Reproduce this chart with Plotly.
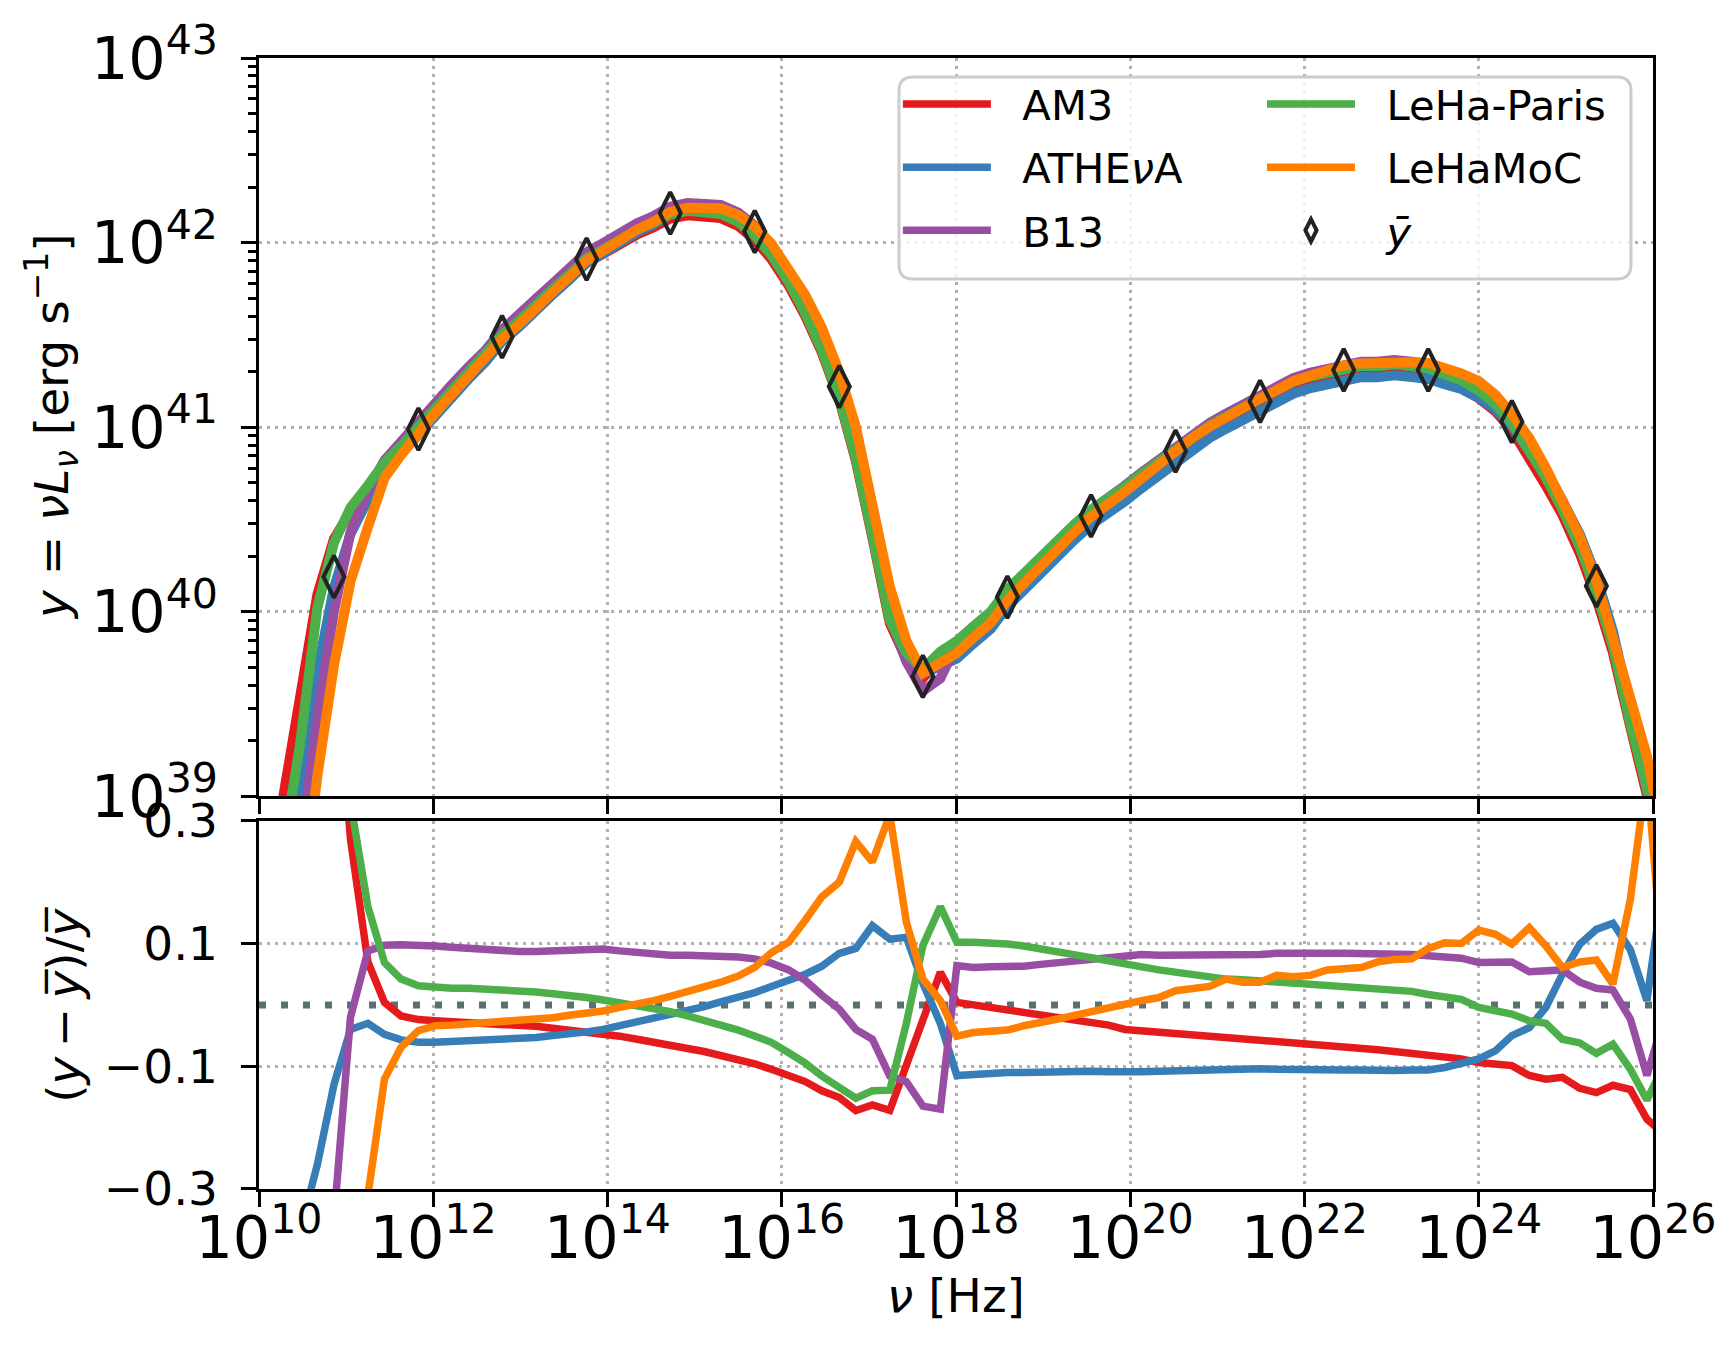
import numpy as np
import plotly.graph_objects as go

# log10(nu / Hz) of the model grid
LOG_NU = [
    9.89, 10.09, 10.28, 10.47, 10.67, 10.86, 11.05, 11.25, 11.44, 11.63,
    11.83, 12.02, 12.21, 12.41, 12.60, 12.79, 12.99, 13.18, 13.37, 13.56,
    13.76, 13.95, 14.14, 14.34, 14.53, 14.72, 14.92, 15.11, 15.30, 15.50,
    15.69, 15.88, 16.08, 16.27, 16.46, 16.66, 16.85, 17.04, 17.24, 17.43,
    17.62, 17.82, 18.01, 18.20, 18.40, 18.59, 18.78, 18.97, 19.17, 19.36,
    19.55, 19.75, 19.94, 20.13, 20.33, 20.52, 20.71, 20.91, 21.10, 21.29,
    21.49, 21.68, 21.87, 22.07, 22.26, 22.45, 22.65, 22.84, 23.03, 23.23,
    23.42, 23.61, 23.80, 24.00, 24.19, 24.38, 24.58, 24.77, 24.96, 25.16,
    25.35, 25.54, 25.74, 25.93, 26.12,
]

# log10 of the mean SED ybar [erg/s]
LOG_YBAR = [
    37.00, 37.90, 38.59, 39.15, 39.81, 40.19, 40.44, 40.62, 40.78, 40.88,
    40.99, 41.09, 41.19, 41.29, 41.38, 41.49, 41.57, 41.66, 41.74, 41.82,
    41.91, 41.96, 42.02, 42.07, 42.11, 42.16, 42.18, 42.18, 42.17, 42.13,
    42.06, 41.96, 41.82, 41.66, 41.47, 41.22, 40.90, 40.48, 40.02, 39.79,
    39.65, 39.72, 39.80, 39.88, 39.96, 40.08, 40.17, 40.27, 40.36, 40.44,
    40.52, 40.58, 40.65, 40.72, 40.79, 40.87, 40.93, 40.99, 41.04, 41.09,
    41.14, 41.18, 41.23, 41.26, 41.28, 41.31, 41.32, 41.32, 41.33, 41.32,
    41.31, 41.28, 41.25, 41.20, 41.13, 41.03, 40.89, 40.74, 40.58, 40.38,
    40.14, 39.84, 39.44, 39.08, 38.74,
]

# relative deviation (y - ybar) / ybar of each code
RES_AM3 = [
    2.00, 1.80, 1.58, 1.52, 0.92, 0.60, 0.27, 0.07, 0.004, -0.018,
    -0.024, -0.026, -0.027, -0.028, -0.029, -0.030, -0.032, -0.035, -0.038, -0.041,
    -0.043, -0.048, -0.051, -0.056, -0.060, -0.066, -0.071, -0.076, -0.082, -0.088,
    -0.096, -0.105, -0.114, -0.125, -0.140, -0.151, -0.172, -0.163, -0.172, -0.099,
    -0.020, 0.053, 0.004, 0.000, -0.003, -0.006, -0.010, -0.014, -0.018, -0.023,
    -0.028, -0.033, -0.040, -0.042, -0.045, -0.048, -0.049, -0.051, -0.055, -0.056,
    -0.057, -0.061, -0.062, -0.064, -0.067, -0.068, -0.069, -0.073, -0.076, -0.079,
    -0.083, -0.086, -0.088, -0.094, -0.096, -0.099, -0.115, -0.121, -0.118, -0.136,
    -0.143, -0.131, -0.138, -0.186, -0.210,
]
RES_ATHENA = [
    -0.35, -0.35, -0.35, -0.37, -0.26, -0.13, -0.040, -0.030, -0.048, -0.057,
    -0.061, -0.061, -0.060, -0.059, -0.058, -0.056, -0.055, -0.053, -0.050, -0.048,
    -0.044, -0.040, -0.034, -0.030, -0.024, -0.018, -0.010, -0.003, 0.005, 0.012,
    0.020, 0.030, 0.039, 0.050, 0.063, 0.084, 0.092, 0.129, 0.107, 0.110,
    0.035, -0.030, -0.115, -0.113, -0.112, -0.110, -0.110, -0.109, -0.108, -0.108,
    -0.108, -0.109, -0.110, -0.109, -0.108, -0.107, -0.106, -0.105, -0.105, -0.104,
    -0.104, -0.105, -0.106, -0.105, -0.105, -0.106, -0.106, -0.107, -0.107, -0.106,
    -0.106, -0.102, -0.094, -0.088, -0.075, -0.050, -0.037, -0.004, 0.050, 0.099,
    0.123, 0.133, 0.090, 0.007, 0.200,
]
RES_B13 = [
    -0.68, -0.68, -0.68, -0.65, -0.59, -0.35, -0.020, 0.088, 0.097, 0.098,
    0.098, 0.096, 0.094, 0.092, 0.089, 0.088, 0.087, 0.087, 0.088, 0.089,
    0.090, 0.091, 0.088, 0.085, 0.082, 0.081, 0.081, 0.081, 0.080, 0.078,
    0.075, 0.068, 0.057, 0.040, 0.016, -0.007, -0.040, -0.056, -0.116, -0.125,
    -0.165, -0.170, 0.064, 0.061, 0.062, 0.062, 0.063, 0.066, 0.069, 0.072,
    0.075, 0.079, 0.082, 0.082, 0.081, 0.081, 0.081, 0.080, 0.079, 0.081,
    0.082, 0.084, 0.085, 0.086, 0.084, 0.084, 0.084, 0.082, 0.082, 0.082,
    0.080, 0.077, 0.076, 0.069, 0.069, 0.070, 0.054, 0.054, 0.057, 0.037,
    0.027, 0.024, -0.023, -0.115, -0.025,
]
RES_LEHA_PARIS = [
    0.40, 0.40, 0.34, 0.35, 0.63, 0.53, 0.33, 0.16, 0.069, 0.042,
    0.031, 0.028, 0.027, 0.027, 0.026, 0.025, 0.023, 0.021, 0.018, 0.016,
    0.012, 0.008, 0.004, 0.000, -0.005, -0.011, -0.018, -0.024, -0.033, -0.041,
    -0.050, -0.061, -0.078, -0.095, -0.116, -0.133, -0.152, -0.140, -0.139, -0.030,
    0.097, 0.160, 0.102, 0.102, 0.101, 0.099, 0.096, 0.092, 0.088, 0.083,
    0.077, 0.072, 0.066, 0.062, 0.057, 0.053, 0.048, 0.044, 0.042, 0.041,
    0.039, 0.036, 0.035, 0.034, 0.031, 0.030, 0.028, 0.025, 0.024, 0.022,
    0.017, 0.014, 0.009, -0.004, -0.010, -0.015, -0.026, -0.030, -0.056, -0.062,
    -0.079, -0.064, -0.105, -0.155, -0.100,
]
RES_LEHAMOC = [
    -0.84, -0.84, -0.84, -0.84, -0.80, -0.67, -0.47, -0.31, -0.121, -0.069,
    -0.042, -0.034, -0.033, -0.031, -0.030, -0.028, -0.026, -0.023, -0.021, -0.017,
    -0.014, -0.010, -0.004, 0.001, 0.007, 0.014, 0.021, 0.028, 0.037, 0.047,
    0.061, 0.085, 0.102, 0.138, 0.176, 0.200, 0.266, 0.233, 0.310, 0.135,
    0.042, 0.007, -0.051, -0.045, -0.043, -0.041, -0.034, -0.030, -0.023, -0.017,
    -0.012, -0.006, 0.001, 0.007, 0.012, 0.023, 0.027, 0.030, 0.042, 0.037,
    0.037, 0.048, 0.046, 0.048, 0.057, 0.059, 0.061, 0.070, 0.074, 0.075,
    0.092, 0.101, 0.100, 0.122, 0.115, 0.099, 0.126, 0.096, 0.061, 0.070,
    0.073, 0.034, 0.172, 0.380, 0.050,
]

MODEL_NAMES = ["AM3", "ATHE<i>ν</i>A", "B13", "LeHa-Paris", "LeHaMoC"]
MODEL_RES = [RES_AM3, RES_ATHENA, RES_B13, RES_LEHA_PARIS, RES_LEHAMOC]
MODEL_COLORS = ["#e41a1c", "#377eb8", "#984ea3", "#4daf4a", "#ff7f00"]
MODEL_LEGEND = ["legend", "legend", "legend", "legend2", "legend2"]
MARKER_EVERY = 5  # ybar diamonds on every 5th grid point
RES_TICKS = [-0.3, -0.1, 0.1, 0.3]

TITLE_SED = "<i>y</i> = <i>νL</i><sub><i>ν</i></sub> [erg s<sup>−1</sup>]"
TITLE_RES = "(<i>y</i>\u2009−\u2009<i>y\u0305</i>)/<i>y\u0305</i>"
TITLE_NU = "<i>ν</i> [Hz]"

FONT = "DejaVu Sans"
FS = 47         # ticks and axis titles
FS_LEG = 41.7   # legend
PAD = "\u00a0\u00a0"  # gap between legend line and label


def _rounded_box(x0, y0, x1, y1, rx, ry):
    """svg path of a rounded rectangle in paper coords (legend frame)"""
    return (f"M{x0 + rx},{y0} L{x1 - rx},{y0} Q{x1},{y0} {x1},{y0 + ry} "
            f"L{x1},{y1 - ry} Q{x1},{y1} {x1 - rx},{y1} "
            f"L{x0 + rx},{y1} Q{x0},{y1} {x0},{y1 - ry} "
            f"L{x0},{y0 + ry} Q{x0},{y0} {x0 + rx},{y0} Z")


def _axis_style(**kw):
    base = dict(
        showline=True, mirror=True, linecolor="black", linewidth=3,
        ticks="outside", ticklen=14.6, tickwidth=3.3, tickcolor="black",
        showgrid=True, gridcolor="#b0b0b0", gridwidth=2.7, griddash="3px,5px",
        zeroline=False, automargin=False,
        tickfont=dict(family=FONT, size=FS, color="black"),
        ticklabelstandoff=14,
    )
    base.update(kw)
    return base


def _axis_title(text, x, y, angle):
    # axis titles placed as annotations so they sit where matplotlib put them
    return dict(text=text, xref="paper", yref="paper", x=x, y=y,
                xanchor="center", yanchor="middle", textangle=angle,
                showarrow=False, font=dict(family=FONT, size=FS, color="black"))


def create_sed_comparison() -> go.Figure:
    nu = 10 ** np.array(LOG_NU)
    ybar = 10 ** np.array(LOG_YBAR)

    fig = go.Figure()

    # SEDs, top panel ----------------------------------------------
    for name, res, color in zip(MODEL_NAMES, MODEL_RES, MODEL_COLORS):
        fig.add_trace(go.Scatter(
            x=nu, y=ybar * (1 + np.array(res)), mode="lines",
            line=dict(color=color, width=10),
            xaxis="x", yaxis="y", showlegend=False, hoverinfo="skip",
        ))

    # relative deviations, bottom panel -----------------------------
    for name, res, color, leg in zip(MODEL_NAMES, MODEL_RES, MODEL_COLORS, MODEL_LEGEND):
        fig.add_trace(go.Scatter(
            x=nu, y=res, mode="lines",
            line=dict(color=color, width=7.5),
            xaxis="x2", yaxis="y2",
            name=PAD + name, legend=leg, legendgroup=name,
        ))

    fig.add_trace(go.Scatter(
        x=nu[MARKER_EVERY::MARKER_EVERY], y=ybar[MARKER_EVERY::MARKER_EVERY],
        mode="markers",
        marker=dict(symbol="diamond-tall-open", size=30, color="#222222",
                    line=dict(width=4, color="#222222")),
        xaxis="x", yaxis="y",
        name=PAD + "<i>ȳ</i>", legend="legend2", legendgroup="ybar",
    ))

    legend_common = dict(
        xanchor="left", yanchor="top", bgcolor="rgba(0,0,0,0)", borderwidth=0,
        font=dict(family=FONT, size=FS_LEG, color="black"),
        itemwidth=88, traceorder="grouped", tracegroupgap=6,
    )

    fig.update_layout(
        width=1729, height=1356,
        margin=dict(l=251, r=84, t=50, b=175),
        paper_bgcolor="white", plot_bgcolor="white",
        font=dict(family=FONT, size=FS, color="black"),
        xaxis=_axis_style(type="log", range=[10, 26], dtick=2, domain=[0, 1],
                          anchor="y", matches="x2", showticklabels=False),
        yaxis=_axis_style(
            type="log", range=[39, 43], dtick=1, exponentformat="power",
            domain=[0.3471, 1], anchor="x",
            minor=dict(ticks="outside", ticklen=8.3, tickwidth=2.5,
                       tickcolor="black", dtick="D1", showgrid=False),
        ),
        xaxis2=_axis_style(
            type="log", range=[10, 26], dtick=2, exponentformat="power",
            domain=[0, 1], anchor="y2", ticklabelstandoff=-17,
        ),
        yaxis2=_axis_style(
            range=[-0.3, 0.3], tickmode="array", tickvals=RES_TICKS,
            domain=[0, 0.3256], anchor="x2",
        ),
        legend=dict(x=0.4583, y=0.9891, **legend_common),
        legend2=dict(x=0.7195, y=0.9891, **legend_common),
        showlegend=True,
        annotations=[
            _axis_title(TITLE_SED, -0.1492, 0.6737, -90),
            _axis_title(TITLE_RES, -0.1399, 0.1628, -90),
            _axis_title(TITLE_NU, 0.5, -0.0946, 0),
        ],
    )

    # zero reference in the residual panel
    fig.add_shape(type="line", xref="x2 domain", x0=0, x1=1, yref="y2", y0=0, y1=0,
                  line=dict(color="#5b7070", width=7, dash="7px,15px"), layer="below")

    # legend frame
    fig.add_shape(type="path", xref="paper", yref="paper",
                  path=_rounded_box(0.4591, 0.8046, 0.9842, 0.9832, 0.0100, 0.0124),
                  line=dict(color="#cccccc", width=3),
                  fillcolor="rgba(255,255,255,0.8)", layer="above")

    return fig


fig = create_sed_comparison()
fig.write_html("out.html")
